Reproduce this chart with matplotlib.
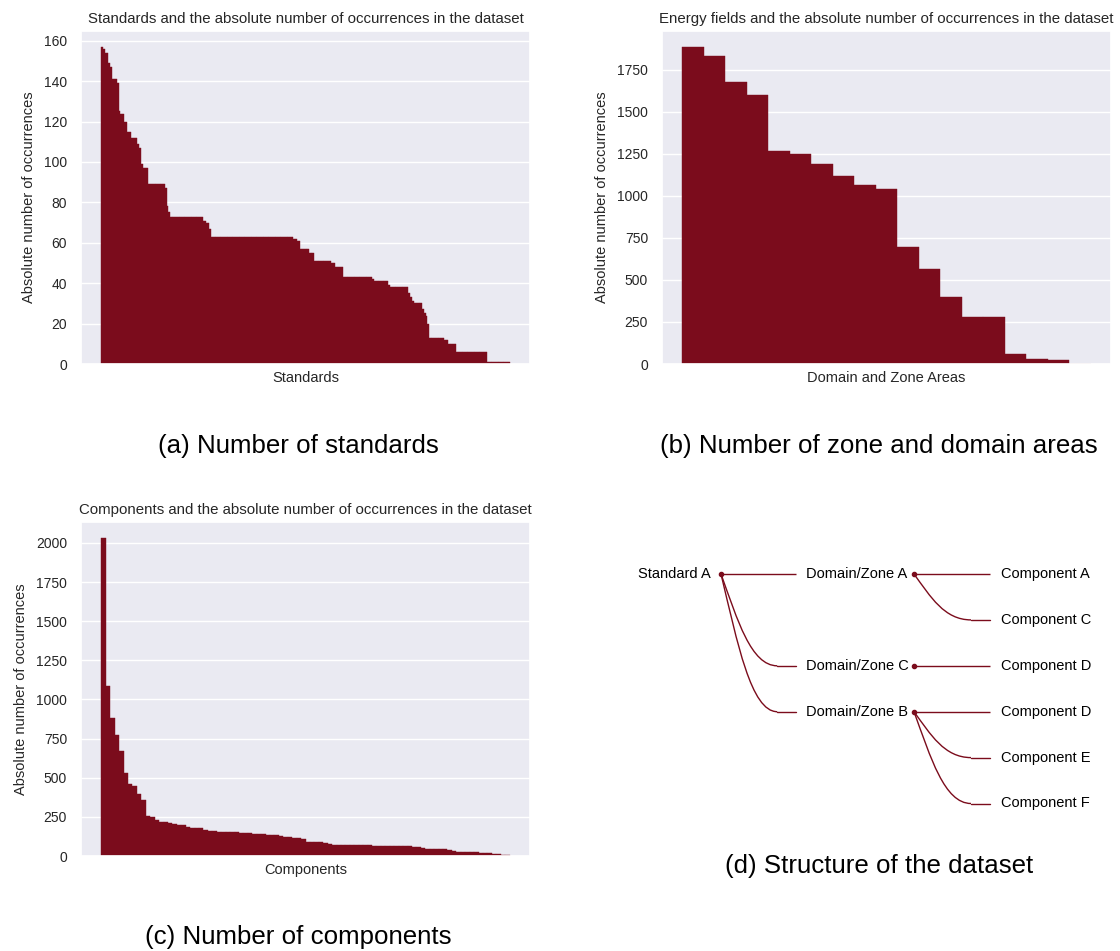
import numpy as np
import matplotlib
matplotlib.use("Agg")
import matplotlib.pyplot as plt
import seaborn as sns
from matplotlib.path import Path
from matplotlib.patches import PathPatch

sns.set_theme(style="darkgrid")
plt.rcParams["font.family"] = ["Liberation Sans", "DejaVu Sans"]

BAR_COLOR = "#7b0c1c"

# panel a: standards, sorted counts as runs (value, how many standards)
std_run_values = [157, 156, 154, 149, 147, 141, 139, 125, 124, 120, 115, 112, 109, 107,
                  99, 97, 89, 87, 78, 75, 73, 71, 70, 67, 63, 62, 61, 57, 55, 51, 50, 48,
                  43, 42, 41, 39, 38, 35, 33, 31, 30, 27, 25, 24, 20, 13, 12, 10, 6, 1]
std_run_counts = [1, 1, 2, 1, 1, 3, 1, 1, 2, 2, 2, 4, 1, 1,
                  1, 3, 10, 1, 1, 1, 19, 2, 2, 1, 48, 2, 2, 5, 3, 10, 2, 5,
                  17, 1, 8, 1, 11, 1, 1, 1, 5, 1, 1, 1, 1, 9, 2, 5, 18, 13]

# panel b: domain / zone areas
area_values = [1885, 1830, 1674, 1601, 1265, 1251, 1186, 1115, 1062, 1038,
               697, 567, 399, 280, 278, 61, 30, 24, 2]

# panel c: components
comp_values = [2032, 1084, 880, 772, 672, 532, 457, 444, 393, 355,
               253, 247, 232, 220, 217, 213, 204, 198, 196, 184,
               182, 181, 180, 165, 160, 157, 156, 155, 154, 153,
               151, 148, 146, 144, 141, 139, 138, 137, 136, 133,
               129, 124, 121, 118, 114, 110, 92, 91, 90, 89,
               84, 78, 73, 73, 72, 72, 71, 71, 70, 70,
               69, 67, 66, 66, 65, 65, 64, 64, 63, 62,
               60, 57, 52, 46, 45, 45, 44, 43, 38, 32,
               28, 27, 27, 26, 25, 20, 19, 17, 14, 12, 9, 4]

# panel d: dataset structure tree
tree_labels = ["Standard A", "Domain/Zone A", "Domain/Zone C", "Domain/Zone B",
               "Component A", "Component C", "Component D", "Component D",
               "Component E", "Component F"]
tree_level = [0, 1, 1, 1, 2, 2, 2, 2, 2, 2]
tree_row = [0, 0, 2, 3, 0, 1, 2, 3, 4, 5]
tree_parent = [-1, 0, 0, 0, 1, 1, 2, 3, 3, 3]

W, H = 1120, 951
fig = plt.figure(figsize=(W / 100, H / 100), dpi=100)


def px_axes(left, top, right, bottom):
    return fig.add_axes([left / W, 1 - bottom / H, (right - left) / W, (bottom - top) / H])


def bar_panel(ax, values, title, xlabel, yticks):
    x = np.arange(len(values))
    ax.bar(x, values, width=1.0, color=BAR_COLOR, edgecolor=BAR_COLOR, linewidth=0.3)
    ax.set_xticks([])
    ax.set_yticks(yticks)
    ax.tick_params(axis="y", labelsize=10, pad=4)
    ax.set_title(title, fontsize=10.8, pad=6)
    ax.set_xlabel(xlabel, fontsize=10.5, labelpad=5)
    ax.set_ylabel("Absolute number of occurrences", fontsize=10.5, labelpad=6)


ax_a = px_axes(81, 31, 530, 364)
bar_panel(ax_a, np.repeat(std_run_values, std_run_counts),
          "Standards and the absolute number of occurrences in the dataset",
          "Standards", np.arange(0, 161, 20))

ax_b = px_axes(662, 31, 1111, 364)
bar_panel(ax_b, area_values,
          "Energy fields and the absolute number of occurrences in the dataset",
          "Domain and Zone Areas", np.arange(0, 1751, 250))

ax_c = px_axes(81, 522, 530, 856)
bar_panel(ax_c, comp_values,
          "Components and the absolute number of occurrences in the dataset",
          "Components", np.arange(0, 2001, 250))

# tree panel, drawn in pixel coordinates
ax_d = px_axes(600, 540, 1120, 830)
ax_d.set_xlim(600, 1120)
ax_d.set_ylim(830, 540)
ax_d.axis("off")

node_x = [721, 914, 990]
link_end_x = [None, 796, 990]
row0_y, row_step = 574, 45.9

for i, lab in enumerate(tree_labels):
    lvl = tree_level[i]
    y = row0_y + row_step * tree_row[i]
    has_kids = i in tree_parent
    if has_kids:
        ax_d.plot(node_x[lvl], y, "o", color=BAR_COLOR, ms=3, zorder=3)
        tx = node_x[lvl] - 10 if lvl == 0 else link_end_x[lvl] + 10
        ha = "right" if lvl == 0 else "left"
        ax_d.text(tx, y, lab, ha=ha, va="center", fontsize=10.5, color="black")
    else:
        ax_d.text(node_x[lvl] + 11, y, lab, ha="left", va="center", fontsize=10.5,
                  color="black")
    p = tree_parent[i]
    if p < 0:
        continue
    x0 = node_x[tree_level[p]]
    y0 = row0_y + row_step * tree_row[p]
    x1 = link_end_x[lvl]
    dx = x1 - x0
    if tree_row[p] == tree_row[i]:
        verts = [(x0, y0), (x1, y)]
        codes = [Path.MOVETO, Path.LINETO]
    else:
        # smooth link that leaves the node steeply and lands flat
        xm = x0 + 0.75 * dx
        verts = [(x0, y0), (x0 + 0.22 * dx, y0 + 0.5 * (y - y0)), (x0 + 0.4 * dx, y), (xm, y)]
        codes = [Path.MOVETO, Path.CURVE4, Path.CURVE4, Path.CURVE4]
        ax_d.plot([xm, x1], [y, y], color=BAR_COLOR, lw=1)
    ax_d.add_patch(PathPatch(Path(verts, codes), facecolor="none",
                             edgecolor=BAR_COLOR, lw=1))

# captions
cap_kw = dict(ha="center", va="center", fontsize=18.6, color="black")
fig.text(298 / W, 1 - 446 / H, "(a) Number of standards", **cap_kw)
fig.text(879 / W, 1 - 446 / H, "(b) Number of zone and domain areas", **cap_kw)
fig.text(298 / W, 1 - 937 / H, "(c) Number of components", **cap_kw)
fig.text(879 / W, 1 - 866 / H, "(d) Structure of the dataset", **cap_kw)

fig.savefig("out.png", dpi=100, facecolor="white")
